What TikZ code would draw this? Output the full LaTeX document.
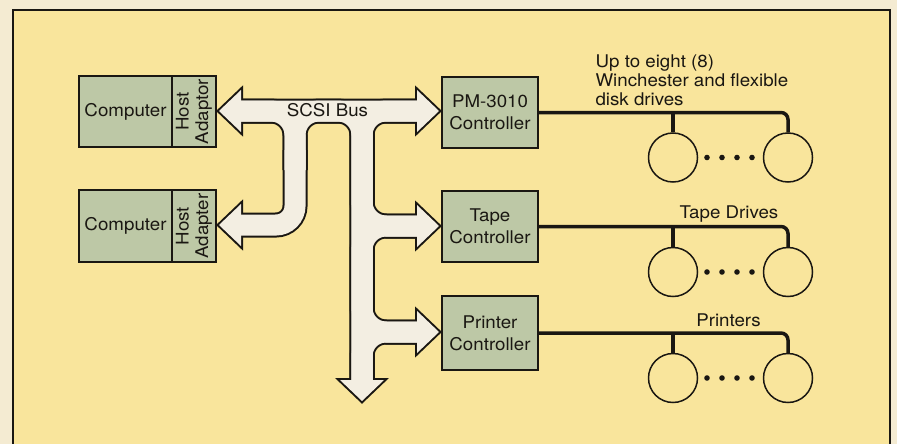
\documentclass[tikz,border=0pt]{standalone}
\usepackage{fontspec}
\setmainfont[FakeStretch=1.07]{TeX Gyre Heros}
\definecolor{paper}{HTML}{F4EBD2}
\definecolor{panel}{HTML}{F9E59C}
\definecolor{boxfill}{HTML}{BDC8A6}
\definecolor{busfill}{HTML}{F3EEE2}
\definecolor{ink}{HTML}{1A1712}
\tikzset{
  unitbox/.style={draw=ink, line width=1.3pt, fill=boxfill, inner sep=0pt},
  txt/.style={font=\fontsize{17.5}{21}\selectfont, text=ink},
  conn/.style={draw=ink, line width=3.5pt},
  drive/.style={circle, draw=ink, line width=1.5pt, minimum size=49pt, inner sep=0pt},
  dot/.style={circle, fill=ink, minimum size=5.6pt, inner sep=0pt},
  busout/.style={draw=ink, line width=25pt, line cap=butt, rounded corners=24pt},
  busin/.style={draw=busfill, line width=21pt, line cap=butt, rounded corners=24pt},
  busoutb/.style={busout, rounded corners=19pt},
  businb/.style={busin, rounded corners=19pt},
  headout/.style={draw=ink, line width=4pt, line join=miter, fill=busfill},
  headin/.style={fill=busfill}
}
\begin{document}
\begin{tikzpicture}[x=1pt, y=-1pt]
\useasboundingbox (0,0) rectangle (897,444);
\fill[paper] (0,0) rectangle (897,444);
\fill[panel] (13,10) rectangle (890,444);
\draw[ink, line width=1.6pt] (13,444) -- (13,10) -- (890,10) -- (890,444);

% ---- SCSI bus : outline pass
\draw[busout] (241,111) -- (295,111) -- (295,170);
\draw[busout] (417,111) -- (295,111) -- (295,170);
\draw[busoutb] (295,150) -- (295,225) -- (241,225);
\draw[busout] (241,111) -- (362,111) -- (362,380);
\draw[busout] (417,111) -- (362,111) -- (362,380);
\draw[busout] (362,111) -- (362,226) -- (417,226);
\draw[busout] (362,380) -- (362,226) -- (417,226);
\draw[busout] (362,111) -- (362,332) -- (417,332);
\draw[busout] (362,380) -- (362,332) -- (417,332);
\draw[headout] (241,90) -- (219,111) -- (241,132) -- cycle;
\draw[headout] (241,204) -- (219,225) -- (241,246) -- cycle;
\draw[headout] (417,90) -- (439,111) -- (417,132) -- cycle;
\draw[headout] (417,205) -- (439,226) -- (417,247) -- cycle;
\draw[headout] (417,311) -- (439,332) -- (417,353) -- cycle;
\draw[headout] (340,380) -- (362,401) -- (384,380) -- cycle;
% ---- SCSI bus : fill pass
\draw[busin] (238,111) -- (295,111) -- (295,170);
\draw[busin] (420,111) -- (295,111) -- (295,170);
\draw[businb] (295,150) -- (295,225) -- (238,225);
\draw[busin] (238,111) -- (362,111) -- (362,383);
\draw[busin] (420,111) -- (362,111) -- (362,383);
\draw[busin] (362,111) -- (362,226) -- (420,226);
\draw[busin] (362,383) -- (362,226) -- (420,226);
\draw[busin] (362,111) -- (362,332) -- (420,332);
\draw[busin] (362,383) -- (362,332) -- (420,332);
\fill[headin] (241,90) -- (219,111) -- (241,132) -- cycle;
\fill[headin] (241,204) -- (219,225) -- (241,246) -- cycle;
\fill[headin] (417,90) -- (439,111) -- (417,132) -- cycle;
\fill[headin] (417,205) -- (439,226) -- (417,247) -- cycle;
\fill[headin] (417,311) -- (439,332) -- (417,353) -- cycle;
\fill[headin] (340,380) -- (362,401) -- (384,380) -- cycle;
\node[txt, anchor=base] (bus) at (327.5,117) {SCSI Bus};

% ---- computers
\node[unitbox, minimum width=93pt, minimum height=71pt, txt] (c1) at (125.5,111.5) {Computer};
\node[unitbox, minimum width=44pt, minimum height=71pt] (h1) at (194,111.5) {};
\node[txt, rotate=90, align=center, font=\fontsize{17.5}{19.5}\selectfont] (h1t) at (h1.center) {Host\\Adaptor};
\node[unitbox, minimum width=93pt, minimum height=72pt, txt] (c2) at (125.5,226) {Computer};
\node[unitbox, minimum width=44pt, minimum height=72pt] (h2) at (194,226) {};
\node[txt, rotate=90, align=center, font=\fontsize{17.5}{19.5}\selectfont] (h2t) at (h2.center) {Host\\Adapter};

% ---- controllers
\node[unitbox, minimum width=96pt, minimum height=71pt, txt, align=center, font=\fontsize{17.5}{22}\selectfont] (pm) at (490,112.5) {PM-3010\\Controller};
\node[unitbox, minimum width=96pt, minimum height=71pt, txt, align=center, font=\fontsize{17.5}{22}\selectfont] (tape) at (490,226.5) {Tape\\Controller};
\node[unitbox, minimum width=96pt, minimum height=74pt, txt, align=center, font=\fontsize{17.5}{22}\selectfont] (prn) at (490,333) {Printer\\Controller};

% ---- drives
\foreach \n/\y in {pm/157.5, tape/272, prn/378}{
  \node[drive] (\n a) at (673,\y) {};
  \node[drive] (\n b) at (788,\y) {};
  \foreach \k/\x in {1/707,2/722,3/737,4/752}{
    \node[dot] (\n d\k) at (\x,\y) {};
  }
  \draw[conn, rounded corners=7pt] (\n.east) -| (\n b.north);
  \draw[conn] (\n a.north) -- (\n a.north |- \n.east);
}

% ---- labels
\node[txt, anchor=base west, align=left, font=\fontsize{17.5}{19.5}\selectfont] (lbl1) at (592,106) {Up to eight (8)\\Winchester and flexible\\disk drives};
\node[txt, anchor=base] (lbl2) at (729,218) {Tape Drives};
\node[txt, anchor=base] (lbl3) at (728.5,326) {Printers};
\end{tikzpicture}
\end{document}
